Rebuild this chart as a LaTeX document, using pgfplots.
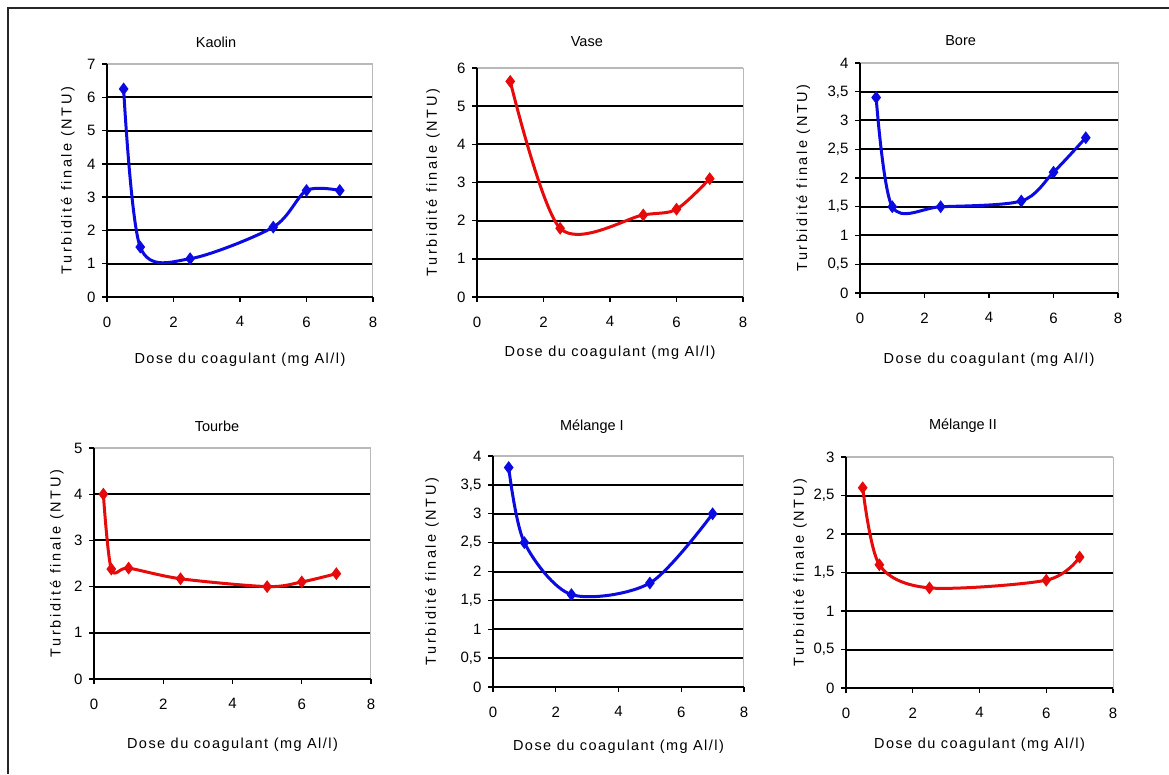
\documentclass[border=0pt]{standalone}
\usepackage{fontspec}
\setmainfont{Liberation Sans}
\usepackage{pgfplots}
\pgfplotsset{compat=1.18}
\newfontfamily\lblfont[LetterSpace=10]{Liberation Sans}
\newfontfamily\ylblfont[LetterSpace=18]{Liberation Sans}
\definecolor{xlblue}{RGB}{10,10,225}
\definecolor{xlred}{RGB}{230,10,10}

\pgfplotsset{
 panel/.style={
  scale only axis, anchor=south west,
  xmin=0,xmax=8, ymin=0, xtick={0,2,...,8},
  tick pos=left, tick align=outside, major tick length=5pt,
  axis line style={gray!55,line width=1pt},
  major tick style={black,line width=1.4pt},
  ymajorgrids, major grid style={black,line width=2pt},
  ticklabel style={font=\fontsize{15}{15}\selectfont},
  xticklabel style={yshift=-11pt},
  yticklabel style={xshift=-3pt},
  /pgf/number format/assume math mode=true,
  /pgf/number format/use comma,
  xlabel={\lblfont Dose du coagulant (mg Al/l)},
  ylabel={\ylblfont Turbidité finale (NTU)},
  label style={font=\fontsize{14.5}{14.5}\selectfont},
  title style={font=\fontsize{14.5}{14.5}\selectfont, anchor=center},
  every axis plot/.append style={line width=3pt, smooth, tension=0.5, mark=diamond*, mark size=4pt, mark options={solid}},
  after end axis/.code={
    \draw[gray!55,line width=2.6pt] (rel axis cs:0,1) -- (rel axis cs:1,1);
    \draw[black,line width=2pt] (rel axis cs:0,1) -- (rel axis cs:0,0) -- (rel axis cs:1,0);
  },
 },
 pos/.style n args={4}{
  ylabel style={at={(axis description cs:#1,0.5)}, anchor=center},
  xlabel style={at={(axis description cs:0.5,0)}, anchor=center, yshift=-#2pt},
  title style={at={(axis description cs:#3,1)}, yshift=#4pt},
 },
}

\begin{document}
\begin{tikzpicture}
\useasboundingbox[fill=white] (0pt,0pt) rectangle (1169pt,774pt);
\draw[line width=2.5pt, black!85] (8pt,0pt) -- (8pt,766pt) -- (1169pt,766pt);

% Kaolin
\begin{axis}[panel, at={(107pt,477pt)}, width=266pt, height=233pt, ymax=7, ytick={0,1,...,7},
  pos={-0.147}{63}{0.41}{16}, title={Kaolin}]
\addplot[color=xlblue] coordinates {(0.5,6.25) (1,1.5) (2.5,1.15) (5,2.1) (6,3.2) (7,3.2)};
\end{axis}

% Vase
\begin{axis}[panel, at={(477pt,477pt)}, width=266pt, height=229pt, ymax=6, ytick={0,1,...,6},
  pos={-0.165}{56}{0.413}{20}, title={Vase}]
\addplot[color=xlred] coordinates {(1,5.65) (2.5,1.8) (5,2.15) (6,2.3) (7,3.1)};
\end{axis}

% Bore
\begin{axis}[panel, at={(860pt,481pt)}, width=258pt, height=230pt, ymax=4, ytick={0,0.5,...,4},
  pos={-0.22}{67}{0.39}{16}, title={Bore}]
\addplot[color=xlblue] coordinates {(0.5,3.4) (1,1.5) (2.5,1.5) (5,1.6) (6,2.1) (7,2.7)};
\end{axis}

% Tourbe
\begin{axis}[panel, at={(94pt,95pt)}, width=277pt, height=231pt, ymax=5, ytick={0,1,...,5},
  pos={-0.134}{66}{0.444}{16}, title={Tourbe}]
\addplot[color=xlred] coordinates {(0.27,4.0) (0.5,2.38) (1,2.4) (2.5,2.17) (5,2.0) (6,2.1) (7,2.28)};
\end{axis}

% Melange I
\begin{axis}[panel, at={(493pt,87pt)}, width=251pt, height=231pt, ymax=4, ytick={0,0.5,...,4},
  pos={-0.243}{60}{0.394}{23}, title={Mélange I}]
\addplot[color=xlblue] coordinates {(0.5,3.8) (1,2.5) (2.5,1.6) (5,1.8) (7,3.0)};
\end{axis}

% Melange II
\begin{axis}[panel, at={(846pt,86pt)}, width=267pt, height=231pt, ymax=3, ytick={0,0.5,...,3},
  pos={-0.172}{57}{0.438}{25}, title={Mélange II}]
\addplot[color=xlred] coordinates {(0.5,2.6) (1,1.6) (2.5,1.3) (6,1.4) (7,1.7)};
\end{axis}
\end{tikzpicture}
\end{document}
